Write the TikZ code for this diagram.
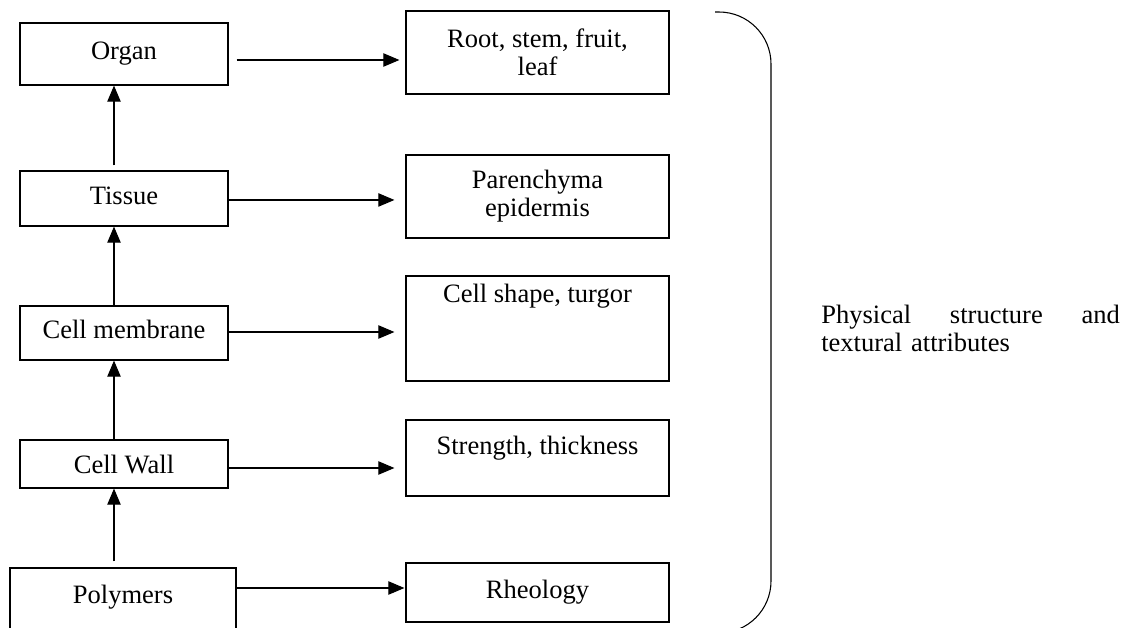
\documentclass[tikz,border=0pt]{standalone}
\usepackage{fontspec}
\setmainfont{Liberation Serif}
\usetikzlibrary{arrows.meta}

\begin{document}
\begin{tikzpicture}[x=0.75pt,y=-0.75pt,
	font=\fontsize{19.9pt}{21pt}\selectfont,
	box/.style={draw,line width=0.9pt,inner sep=0pt,align=center},
	lbox/.style={box,minimum width=156pt,text height=13.9pt,text depth=5pt},
	rbox/.style={box,minimum width=197.25pt},
	arr/.style={line width=0.8pt,-{Triangle[length=12pt,width=10pt]}}]
\useasboundingbox (0,0) rectangle (1135,628);
% levels of structure
\node[lbox,minimum height=46.5pt] (organ) at (124,54) {Organ};
\node[lbox,minimum height=41.25pt] (tissue) at (124,198.5) {Tissue};
\node[lbox,minimum height=40.5pt] (membrane) at (124,333) {Cell membrane};
\node[lbox,minimum height=36pt,text depth=0pt] (wall) at (124,464) {Cell Wall};
\node[lbox,minimum width=169.5pt,minimum height=52.5pt,text depth=13.9pt] (polymers) at (123,603) {Polymers};
% examples
\node[rbox,minimum height=62.25pt] (root) at (537.5,52.5) {Root, stem, fruit,\\leaf};
\node[rbox,minimum height=62.25pt] (paren) at (537.5,196.5) {Parenchyma\\epidermis};
\node[rbox,minimum height=78.75pt,text height=13.9pt,text depth=53.6pt] (shape) at (537.5,328.5) {Cell shape, turgor};
\node[rbox,minimum height=57pt,text height=13.9pt,text depth=18.5pt] (strength) at (537.5,458) {Strength, thickness};
\node[rbox,minimum height=44.25pt,text height=13.9pt,text depth=5pt] (rheo) at (537.5,592.5) {Rheology};
% arrows
\foreach \a/\b/\g in {tissue/organ/3.75pt,membrane/tissue/0pt,wall/membrane/0pt}
	\draw[arr,shorten <=\g] ([xshift=-7.5pt]\a.north) -- ([xshift=-7.5pt]\b.south);
\draw[arr,shorten <=4.5pt] ([xshift=-6.75pt]polymers.north) -- ([xshift=-7.5pt]wall.south);
\draw[arr,shorten <=6pt,shorten >=4.5pt] ([yshift=-4.5pt]organ.east) -- ([yshift=-4.5pt]organ.east -| root.west);
\foreach \a/\b/\s in {tissue/paren/-1.1pt,membrane/shape/0.75pt,wall/strength/-3pt}
	\draw[arr,shorten >=8.25pt] ([yshift=\s]\a.east) -- ([yshift=\s]\a.east -| \b.west);
\draw[arr,shorten >=0.75pt] ([yshift=11.25pt]polymers.east) -- ([yshift=11.25pt]polymers.east -| rheo.west);
% bracket
\coordinate[] (T) at (715,12);
\coordinate[] (TR) at (771,12);
\coordinate[] (BR) at (771,633);
\coordinate[] (B) at (715,633);
\draw[line width=0.8pt,rounded corners=39pt] (T) -- (TR) -- (BR) -- (B);
\node[anchor=north west,inner sep=0pt,text width=224pt,align=left] (attr) at (821,305)
	{Physical\hfill structure\hfill and\\textural attributes};
\end{tikzpicture}
\end{document}
